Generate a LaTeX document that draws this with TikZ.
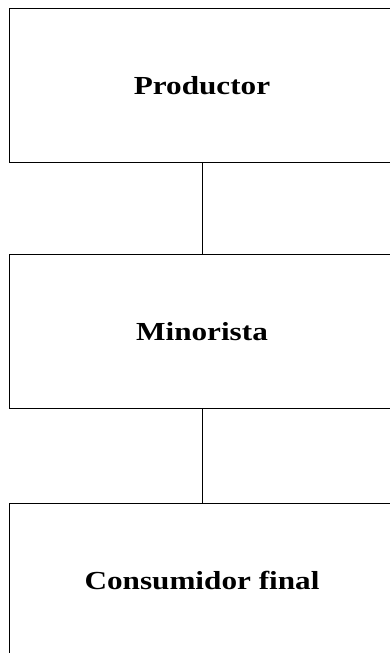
\documentclass[tikz,border=0pt]{standalone}
\usepackage{fontspec}
\setmainfont{Liberation Serif}
\usetikzlibrary{positioning}
\newcommand{\widetext}[1]{\scalebox{1.2}[1]{#1}}

\begin{document}
\begin{tikzpicture}[
    x=1pt, y=1pt,
    every node/.style={font=\fontsize{26}{30}\selectfont\bfseries},
    level/.style={rectangle, draw=black, line width=1pt,
                  minimum width=386pt, minimum height=154pt,
                  inner sep=0pt, align=center},
    link/.style={line width=1pt, draw=black}
  ]
    \useasboundingbox (0,0) rectangle (389,-653);
    \node[level] (prod) at (202,-85.5) {\widetext{Productor}};
    \node[level, below=91pt of prod] (mino) {\widetext{Minorista}};
    \node[level, below=94pt of mino] (cons) {\widetext{Consumidor final}};

    \draw[link] (prod) -- (mino);
    \draw[link] (mino) -- (cons);
  \end{tikzpicture}
\end{document}
